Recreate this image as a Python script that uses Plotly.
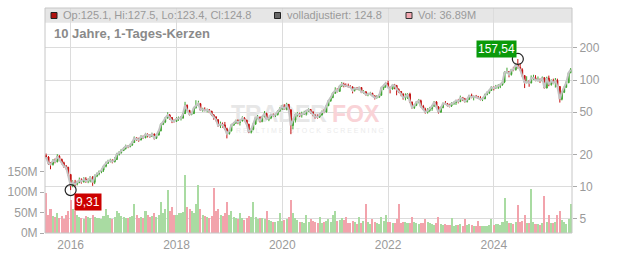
import numpy as np
import pandas as pd
import plotly.graph_objects as go

# ---------------- data (semi-monthly candles) ----------------
first_open = 19.6

close_2015 = [19.0, 16.5, 16.2, 17.6, 17.2, 19.3, 18.0, 16.8, 15.6, 15.2, 13.0]
high_2015 = [20.5, 19.4, 17.0, 18.2, 18.4, 20.2, 19.8, 18.4, 17.2, 16.0, 15.4]
low_2015 = [18.4, 16.0, 14.6, 15.8, 16.6, 16.9, 17.4, 16.2, 15.1, 14.5, 12.6]
vol_2015 = [98, 45, 60, 42, 40, 48, 38, 42, 35, 45, 55]

close_2016 = [10.3, 11.0, 10.6, 11.0, 11.5, 11.2, 11.8, 11.3, 11.5, 12.2, 11.0, 12.6,
              13.2, 13.8, 14.3, 15.6, 16.6, 17.4, 17.6, 17.2, 18.0, 20.2, 20.8, 21.9]
high_2016 = [13.2, 11.5, 11.6, 11.4, 12.2, 12.0, 12.3, 12.3, 12.0, 12.6, 12.6, 13.0,
             13.6, 14.2, 14.8, 16.0, 17.2, 17.9, 18.3, 18.1, 19.0, 20.8, 21.6, 22.6]
low_2016 = [9.31, 9.9, 10.1, 10.3, 10.8, 10.7, 10.9, 10.9, 10.8, 11.0, 10.2, 10.6,
            12.3, 12.8, 13.4, 13.8, 15.2, 16.4, 16.9, 16.6, 16.9, 17.8, 19.6, 20.5]
vol_2016 = [80, 60, 55, 45, 40, 38, 35, 42, 40, 36, 45, 40,
            38, 36, 35, 42, 60, 44, 38, 35, 40, 55, 48, 42]

close_2017 = [22.8, 24.0, 23.8, 24.6, 26.0, 28.5, 28.0, 27.5, 29.5, 28.8, 31.0, 30.2,
              29.8, 31.2, 28.5, 30.5, 33.5, 38.5, 40.5, 44.0, 47.0, 44.5, 41.5, 41.0]
high_2017 = [23.5, 24.8, 24.6, 25.3, 26.8, 29.6, 29.2, 28.8, 30.4, 30.2, 32.0, 31.6,
             31.0, 32.1, 31.5, 31.2, 34.2, 39.3, 41.5, 45.0, 49.9, 48.0, 45.0, 42.8]
low_2017 = [21.6, 22.3, 23.0, 23.4, 24.2, 25.8, 27.0, 26.4, 27.2, 28.0, 28.5, 29.0,
            28.8, 29.4, 27.6, 28.0, 30.2, 33.0, 37.8, 39.5, 43.5, 42.5, 39.5, 40.0]
vol_2017 = [40, 38, 36, 40, 42, 70, 45, 38, 40, 38, 55, 45,
            40, 42, 50, 40, 45, 75, 50, 60, 105, 55, 65, 45]

close_2018 = [43.5, 43.7, 44.0, 48.5, 58.0, 52.0, 47.5, 48.5, 55.0, 57.5, 60.0, 52.5,
              53.2, 52.0, 52.5, 51.0, 47.0, 45.0, 42.5, 37.5, 38.5, 38.0, 35.0, 31.5]
high_2018 = [45.0, 45.5, 46.0, 49.5, 62.5, 59.0, 52.5, 50.0, 56.0, 64.7, 64.0, 61.0,
             55.0, 55.5, 54.0, 53.5, 51.5, 48.0, 46.0, 43.0, 40.8, 40.0, 40.5, 35.8]
low_2018 = [40.5, 41.5, 41.8, 43.5, 48.0, 51.0, 46.5, 46.8, 48.0, 54.0, 57.0, 51.5,
            50.5, 51.0, 49.8, 49.0, 46.0, 42.5, 41.0, 36.5, 35.5, 35.8, 34.0, 28.4]
vol_2018 = [45, 50, 48, 52, 143, 65, 60, 55, 50, 70, 118, 60,
            45, 42, 40, 38, 42, 110, 55, 60, 45, 42, 48, 75]

close_2019 = [33.5, 38.0, 39.5, 41.5, 40.0, 41.3, 44.0, 42.0, 38.5, 32.5, 34.5, 38.6,
              44.5, 44.9, 41.0, 45.3, 48.5, 43.0, 44.0, 47.5, 46.5, 47.5, 51.0, 53.8]
high_2019 = [34.5, 38.8, 40.5, 42.5, 42.8, 42.6, 45.8, 45.0, 42.5, 39.0, 35.5, 39.5,
             45.0, 47.0, 45.5, 46.0, 51.2, 49.5, 45.0, 48.0, 48.5, 48.5, 52.0, 55.5]
low_2019 = [30.8, 33.0, 37.2, 38.8, 38.6, 37.5, 41.0, 41.0, 37.0, 31.8, 31.6, 33.8,
            38.2, 43.0, 40.0, 40.2, 44.8, 42.3, 41.2, 43.0, 45.5, 45.0, 46.5, 50.5]
vol_2019 = [45, 55, 40, 38, 35, 50, 36, 32, 38, 42, 40, 75,
            40, 35, 38, 36, 34, 55, 32, 30, 28, 26, 30, 50]

close_2020 = [57.0, 53.2, 59.0, 52.5, 37.5, 42.0, 47.5, 47.9, 47.0, 47.9, 48.5, 51.5,
              53.0, 50.0, 47.0, 45.5, 45.0, 47.0, 50.5, 50.3, 57.5, 64.0, 68.5, 75.2]
high_2020 = [58.5, 59.5, 61.2, 59.8, 53.5, 43.5, 48.5, 50.0, 49.5, 50.5, 51.5, 52.5,
             54.5, 53.5, 51.0, 47.5, 47.5, 48.5, 51.8, 53.0, 58.5, 65.0, 70.0, 76.5]
low_2020 = [52.5, 52.5, 52.0, 49.5, 31.1, 34.5, 40.0, 45.5, 45.0, 44.5, 47.0, 46.5,
            50.5, 48.5, 45.8, 43.5, 43.5, 44.2, 46.5, 49.0, 49.5, 57.0, 62.5, 67.5]
vol_2020 = [30, 32, 35, 40, 80, 48, 38, 32, 28, 26, 25, 45,
            28, 34, 30, 26, 25, 40, 24, 26, 30, 35, 28, 45]

close_2021 = [80.0, 78.3, 88.0, 91.5, 89.0, 88.2, 86.5, 86.0, 80.0, 84.0, 82.5, 85.0,
              77.0, 77.6, 73.0, 73.5, 75.0, 71.0, 68.5, 69.1, 72.0, 84.0, 88.0, 93.2]
high_2021 = [85.5, 84.0, 89.0, 95.7, 94.5, 93.0, 92.5, 89.5, 87.5, 85.5, 86.0, 86.5,
             85.5, 80.5, 78.5, 76.0, 77.5, 76.0, 72.0, 72.0, 74.0, 86.5, 90.5, 96.0]
low_2021 = [74.5, 76.5, 78.0, 86.0, 85.5, 86.0, 86.0, 84.0, 75.0, 78.0, 80.5, 79.5,
            75.5, 74.5, 71.5, 70.5, 72.0, 70.0, 65.7, 67.0, 68.5, 71.5, 80.5, 84.5]
vol_2021 = [55, 30, 32, 38, 32, 40, 25, 24, 30, 26, 22, 40,
            25, 30, 72, 26, 22, 35, 28, 24, 22, 40, 30, 45]

close_2022 = [85.0, 82.3, 90.0, 88.8, 82.0, 77.9, 74.0, 68.2, 70.0, 73.8, 62.0, 55.3,
              58.0, 61.9, 64.0, 56.5, 53.0, 50.1, 51.5, 54.0, 57.0, 62.4, 56.0, 50.0]
high_2022 = [98.5, 87.0, 91.0, 92.0, 90.0, 83.5, 79.0, 75.0, 75.0, 75.5, 76.0, 63.0,
             59.5, 63.5, 66.5, 65.5, 58.5, 55.0, 54.5, 56.0, 58.5, 63.0, 63.5, 57.0]
low_2022 = [84.0, 75.0, 81.5, 82.0, 72.0, 75.5, 70.5, 65.5, 64.5, 66.5, 61.0, 54.0,
            53.5, 57.0, 60.5, 55.5, 52.5, 48.5, 48.5, 50.5, 51.5, 56.0, 54.5, 48.5]
vol_2022 = [28, 26, 25, 24, 35, 72, 24, 26, 28, 25, 24, 40,
            26, 24, 22, 25, 24, 35, 26, 24, 22, 20, 24, 40]

close_2023 = [55.0, 60.3, 60.0, 57.8, 57.0, 60.3, 61.5, 64.4, 63.0, 68.0, 66.5, 63.1,
              66.0, 71.4, 69.0, 70.0, 69.5, 68.0, 66.0, 66.9, 73.0, 76.1, 80.0, 85.3]
high_2023 = [56.5, 61.5, 63.5, 61.0, 60.0, 62.0, 63.0, 65.0, 66.5, 71.5, 69.5, 68.0,
             67.0, 72.5, 74.5, 71.5, 72.5, 71.0, 70.5, 69.0, 74.5, 78.0, 81.5, 87.5]
low_2023 = [49.5, 54.5, 58.5, 56.5, 55.5, 56.0, 58.5, 58.5, 60.5, 62.0, 63.5, 61.5,
            61.5, 65.0, 67.5, 64.5, 67.5, 66.5, 64.5, 63.5, 66.0, 72.0, 74.0, 79.0]
vol_2023 = [22, 20, 21, 19, 20, 36, 18, 19, 20, 22, 18, 34,
            20, 22, 19, 18, 17, 30, 18, 16, 18, 17, 20, 35]

close_2024 = [84.0, 85.7, 88.0, 90.5, 95.5, 117.9, 120.0, 112.9, 125.0, 124.9, 140.0, 131.5,
              125.0, 109.7, 95.0, 96.3, 94.0, 104.0, 105.0, 99.7, 100.0, 98.5, 105.0, 84.2]
high_2024 = [87.0, 90.0, 91.5, 92.5, 99.0, 120.5, 130.5, 121.0, 127.0, 133.0, 144.5, 157.54,
             144.0, 129.0, 111.5, 108.5, 100.0, 110.5, 112.0, 111.0, 108.0, 103.5, 108.0, 106.5]
low_2024 = [80.0, 83.0, 82.5, 84.0, 88.5, 93.5, 115.0, 106.0, 110.0, 121.0, 122.5, 128.0,
            123.0, 107.5, 84.1, 93.0, 86.5, 93.0, 100.0, 97.5, 97.0, 94.0, 96.5, 84.0]
vol_2024 = [20, 22, 21, 20, 26, 85, 30, 25, 24, 22, 26, 69,
            28, 30, 45, 25, 24, 108, 26, 22, 21, 20, 24, 90]

close_2025 = [104.0, 91.0, 98.5, 93.9, 99.0, 86.9, 66.0, 76.9, 85.5, 94.4, 117.0, 124.8]
high_2025 = [107.5, 110.0, 101.5, 103.0, 104.5, 103.0, 87.5, 77.5, 87.0, 97.5, 118.5, 129.5]
low_2025 = [83.5, 87.5, 88.5, 91.5, 85.0, 85.5, 61.5, 64.5, 75.5, 84.5, 93.5, 116.0]
vol_2025 = [28, 45, 25, 24, 26, 45, 55, 32, 26, 22, 35, 70]

header_ohlc = "Op:125.1, Hi:127.5, Lo:123.4, Cl:124.8"
header_adj = "volladjustiert: 124.8"
header_vol = "Vol: 36.89M"
title_text = "10 Jahre, 1-Tages-Kerzen"

price_ticks = [5, 10, 20, 50, 100, 200]
vol_ticks = [0, 50, 100, 150]
year_ticks = [2016, 2018, 2020, 2022, 2024]

# ---------------- assemble ----------------
closes = (close_2015 + close_2016 + close_2017 + close_2018 + close_2019 + close_2020
          + close_2021 + close_2022 + close_2023 + close_2024 + close_2025)
highs = (high_2015 + high_2016 + high_2017 + high_2018 + high_2019 + high_2020
         + high_2021 + high_2022 + high_2023 + high_2024 + high_2025)
lows = (low_2015 + low_2016 + low_2017 + low_2018 + low_2019 + low_2020
        + low_2021 + low_2022 + low_2023 + low_2024 + low_2025)
vols = (vol_2015 + vol_2016 + vol_2017 + vol_2018 + vol_2019 + vol_2020
        + vol_2021 + vol_2022 + vol_2023 + vol_2024 + vol_2025)
n = min(len(closes), len(highs), len(lows), len(vols))
closes, highs, lows, vols = closes[:n], highs[:n], lows[:n], vols[:n]
opens = [first_open] + closes[:-1]
dates = pd.date_range("2015-07-15", periods=n, freq="SMS")

GREEN = "#3da52f"
RED = "#c40f0f"
vol_colors = ["#a9dba2" if c >= o else "#f2a3ac" for o, c in zip(opens, closes)]

# plot area in pixels
L, R, T, B = 45, 572, 8, 233
PW, PH = R - L, B - T


def px(xp):
    return (xp - L) / PW


def py(yp):
    return (B - yp) / PH


X0, X1 = pd.Timestamp("2015-07-08"), pd.Timestamp("2025-06-24")
PMIN, PMAX = 3.69, 473.0
VMAX = 552e6

fig = go.Figure()

fig.add_trace(go.Bar(x=dates, y=np.array(vols) * 1e6, marker_color=vol_colors,
                     marker_line_width=0, yaxis="y", hoverinfo="skip", showlegend=False))

# watermark (drawn on base axes so it lies beneath the candles)
def wm_x(xp):
    return X0 + (X1 - X0) * px(xp)

fig.add_trace(go.Scatter(x=[wm_x(231), wm_x(332)], y=[py(116) * VMAX] * 2, mode="text",
                         text=["TRADER", "FOX"], textposition="middle right",
                         textfont=dict(family="Liberation Sans", size=23,
                                       color=["#e7e7e7", "#f9d3d7"], weight="bold"),
                         yaxis="y", hoverinfo="skip", showlegend=False))
fig.add_trace(go.Scatter(x=[wm_x(236)], y=[py(131) * VMAX], mode="text",
                         text=["R E A L T I M E   S T O C K   S C R E E N I N G"],
                         textposition="middle right",
                         textfont=dict(family="Liberation Sans", size=7, color="#ebebeb"),
                         yaxis="y", hoverinfo="skip", showlegend=False))

fig.add_trace(go.Scatter(x=dates, y=closes, mode="lines", line=dict(color="#c4c4c4", width=2),
                         yaxis="y2", hoverinfo="skip", showlegend=False))

fig.add_trace(go.Candlestick(x=dates, open=opens, high=highs, low=lows, close=closes,
                             yaxis="y2", whiskerwidth=0,
                             increasing=dict(line=dict(color=GREEN, width=1), fillcolor=GREEN),
                             decreasing=dict(line=dict(color=RED, width=1), fillcolor=RED),
                             showlegend=False))

i_hi = int(np.argmax(highs))
i_lo = int(np.argmin(lows))
fig.add_trace(go.Scatter(x=[dates[i_hi], dates[i_lo]], y=[highs[i_hi], lows[i_lo]], mode="markers",
                         marker=dict(symbol="circle-open", size=11, color="#222222", line=dict(width=1.2)),
                         yaxis="y2", hoverinfo="skip", showlegend=False))


def fmt(v):
    return f"{v:.2f}".replace(".", ",")


annotations = [
    dict(x=dates[i_hi], y=np.log10(highs[i_hi]), xref="x", yref="y2", text=fmt(highs[i_hi]),
         showarrow=True, arrowcolor="rgba(0,0,0,0)", ax=-21, ay=-10,
         bgcolor="#0a9a0a", borderpad=1, font=dict(family="Liberation Sans", size=12, color="white")),
    dict(x=dates[i_lo], y=np.log10(lows[i_lo]), xref="x", yref="y2", text=fmt(lows[i_lo]),
         showarrow=True, arrowcolor="rgba(0,0,0,0)", ax=17, ay=12,
         bgcolor="#cc0000", borderpad=1, font=dict(family="Liberation Sans", size=12, color="white")),
    dict(x=px(60.5), y=py(15.5), xref="paper", yref="paper", text=header_ohlc, showarrow=False,
         xanchor="left", yanchor="middle", font=dict(family="Liberation Sans", size=11, color="#9a9a9a")),
    dict(x=px(284.5), y=py(15.5), xref="paper", yref="paper", text=header_adj, showarrow=False,
         xanchor="left", yanchor="middle", font=dict(family="Liberation Sans", size=11, color="#9a9a9a")),
    dict(x=px(415.5), y=py(15.5), xref="paper", yref="paper", text=header_vol, showarrow=False,
         xanchor="left", yanchor="middle", font=dict(family="Liberation Sans", size=11, color="#9a9a9a")),
    dict(x=px(51.5), y=py(33), xref="paper", yref="paper", text="<b>" + title_text + "</b>",
         showarrow=False, xanchor="left", yanchor="middle",
         font=dict(family="Liberation Sans", size=13, color="#8a8a8a")),
]

shapes = [
    dict(type="rect", xref="paper", yref="paper", x0=0, x1=1, y0=py(22.7), y1=1,
         fillcolor="#e6e6e6", line=dict(width=0), layer="below"),
    dict(type="rect", xref="paper", yref="paper", x0=0, x1=1, y0=0, y1=1,
         fillcolor="rgba(0,0,0,0)", line=dict(color="#c6c6c6", width=1), layer="above"),
    dict(type="rect", xref="paper", yref="paper", x0=px(51), x1=px(57), y0=py(18.5), y1=py(12.5),
         fillcolor="#b0120f", line=dict(color="#222", width=1)),
    dict(type="rect", xref="paper", yref="paper", x0=px(274.5), x1=px(280.5), y0=py(18.5), y1=py(12.5),
         fillcolor="#666666", line=dict(color="#222", width=1)),
    dict(type="rect", xref="paper", yref="paper", x0=px(406), x1=px(412), y0=py(18.5), y1=py(12.5),
         fillcolor="#f2a7b0", line=dict(color="#333", width=1)),
]

tickfont = dict(family="Liberation Sans", size=12, color="#9a9a9a")

fig.update_layout(
    width=632, height=253,
    margin=dict(l=L, r=632 - R, t=T, b=253 - B, autoexpand=False),
    paper_bgcolor="white", plot_bgcolor="white",
    bargap=0.0,
    showlegend=False,
    xaxis=dict(type="date", range=[X0, X1], rangeslider=dict(visible=False),
               tickvals=[pd.Timestamp(f"{y}-01-01") for y in year_ticks],
               ticktext=[str(y) for y in year_ticks],
               showgrid=True, gridcolor="#dcdcdc", gridwidth=1, zeroline=False,
               showline=False, ticks="outside", ticklen=1, tickcolor="rgba(0,0,0,0)",
               tickfont=tickfont, automargin=False),
    yaxis=dict(range=[0, VMAX], tickvals=[v * 1e6 for v in vol_ticks],
               ticktext=[f"{v}M" for v in vol_ticks], showgrid=False, zeroline=False,
               ticks="outside", ticklen=4, tickcolor="#aaaaaa", tickfont=tickfont,
               fixedrange=True, automargin=False),
    yaxis2=dict(overlaying="y", side="right", type="log",
                range=[np.log10(PMIN), np.log10(PMAX)], tickvals=price_ticks,
                ticktext=[str(v) for v in price_ticks], showgrid=True, gridcolor="#dcdcdc",
                zeroline=False, ticks="outside", ticklen=4, tickcolor="#aaaaaa", tickfont=tickfont,
                automargin=False),
    annotations=annotations,
    shapes=shapes,
)

fig.write_html("out.html")
